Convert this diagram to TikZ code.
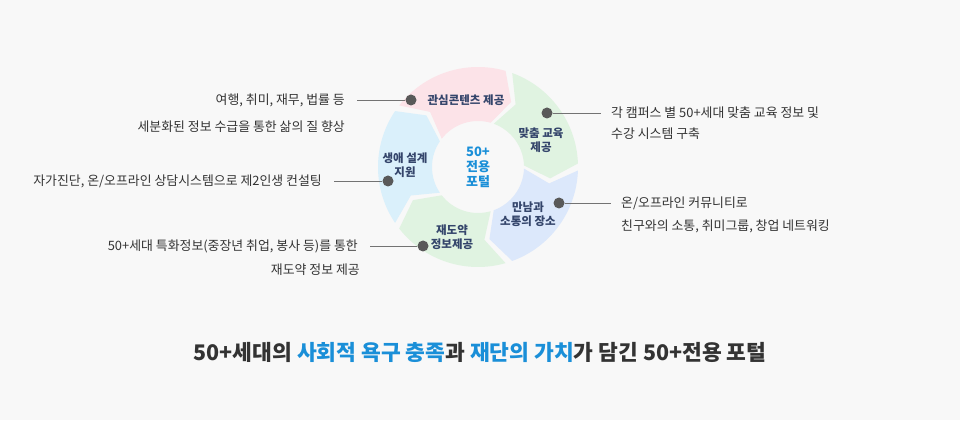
\documentclass[tikz,border=0pt]{standalone}
\usepackage{fontspec}
\setmainfont{Noto Sans CJK KR}
\definecolor{bg}{HTML}{F8F8F8}
\definecolor{cpink}{HTML}{FCE3E8}
\definecolor{cgreen}{HTML}{E0F3E1}
\definecolor{cblue}{HTML}{DCE8FB}
\definecolor{clb}{HTML}{DAF0FB}
\definecolor{navy}{HTML}{34456B}
\definecolor{accent}{HTML}{1A8FD8}
\definecolor{txt}{HTML}{333333}
\tikzset{
 seglab/.style={font=\fontsize{11.5}{14}\selectfont\bfseries, text=navy, align=center},
 desc/.style={font=\fontsize{12.9}{15}\selectfont, text=txt, inner sep=0pt},
 dot/.style={circle, fill=black!65, minimum size=11pt, inner sep=0pt},
 lead/.style={draw=black!55, line width=0.8pt}
}
\begin{document}
\begin{tikzpicture}[x=1pt,y=1pt]
\fill[bg] (0,0) rectangle (960,420);
\useasboundingbox (0,0) rectangle (960,420);
\begin{scope}[shift={(478,253)}]
\def\R{100}\def\r{46}\def\rm{73}
\foreach \s/\e/\c in {144/72/cpink,72/0/cgreen,0/-72/cblue,-72/-144/cgreen,216/144/clb}{
 \pgfmathsetmacro\a{\s-2}\pgfmathsetmacro\b{\e+2}
 \pgfmathsetmacro\bt{\e+2-11}\pgfmathsetmacro\at{\s-2-11}
 \fill[\c] (\a:\R) arc[start angle=\a, end angle=\b, radius=\R] -- (\bt:\rm) -- (\b:\r)
   arc[start angle=\b, end angle=\a, radius=\r] -- (\at:\rm) -- cycle;
}
\end{scope}
\node[align=center, text=accent, font=\fontsize{13}{15}\selectfont\bfseries] (ctr) at (478,253) {50+\\전용\\포털};
\node[seglab] (s1) at (466,320) {관심콘텐츠 제공};
\node[seglab] (s2) at (541,280) {맞춤 교육\\제공};
\node[seglab] (s3) at (528,206) {만남과\\소통의 장소};
\node[seglab] (s4) at (452,183) {재도약\\정보제공};
\node[seglab] (s5) at (405,255) {생애 설계\\지원};
% leaders
\node[dot] (d1) at (411,320) {}; \coordinate (e1) at (357,320);
\node[dot] (d2) at (547,307) {}; \coordinate (e2) at (601,307);
\node[dot] (d3) at (388,239) {}; \coordinate (e3) at (334,239);
\node[dot] (d4) at (559,217) {}; \coordinate (e4) at (611,217);
\node[dot] (d5) at (423,174) {}; \coordinate (e5) at (370,174);
\foreach \i in {1,...,5}{\draw[lead] (d\i) -- (e\i);}
\node[desc, anchor=east] (t1a) at (345,320) {여행, 취미, 재무, 법률 등};
\node[desc, anchor=east] (t1b) at (345,293) {세분화된 정보 수급을 통한 삶의 질 향상};
\node[desc, anchor=west] (t2a) at (611,307) {각 캠퍼스 별 50+세대 맞춤 교육 정보 및};
\node[desc, anchor=west] (t2b) at (611,286) {수강 시스템 구축};
\node[desc, anchor=east] (t3) at (322,239) {자가진단, 온/오프라인 상담시스템으로 제2인생 컨설팅};
\node[desc, anchor=west] (t4a) at (621,217) {온/오프라인 커뮤니티로};
\node[desc, anchor=west] (t4b) at (621,194) {친구와의 소통, 취미그룹, 창업 네트워킹};
\node[desc, anchor=east] (t5a) at (358,174) {50+세대 특화정보(중장년 취업, 봉사 등)를 통한};
\node[desc, anchor=east] (t5b) at (360,150) {재도약 정보 제공};
\node[font=\fontsize{21.5}{25}\selectfont\bfseries, text=txt] (title) at (480,68)
 {50+세대의 \textcolor{accent}{사회적 욕구 충족}과 \textcolor{accent}{재단의 가치}가 담긴 50+전용 포털};
\end{tikzpicture}
\end{document}
